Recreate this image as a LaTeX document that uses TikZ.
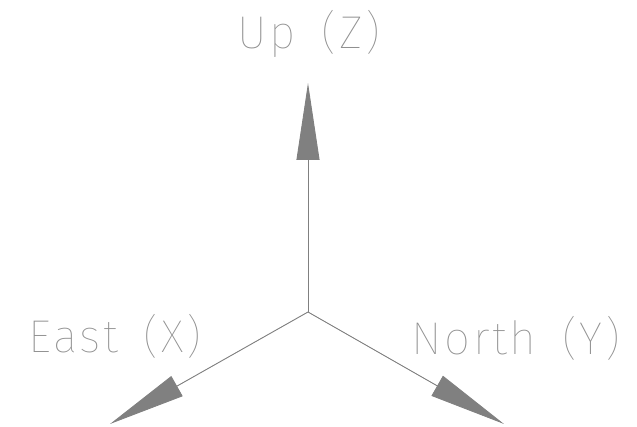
\documentclass[tikz,border=0pt]{standalone}
\usepackage{fontspec}
\usepackage{xcolor}
\usetikzlibrary{arrows.meta}
\newfontfamily\axisfont[LetterSpace=5.5,WordSpace=1.6]{Fira Sans Thin}
\definecolor{axisline}{HTML}{808080}
\definecolor{axistext}{HTML}{909090}

\begin{document}
\begin{tikzpicture}[
  x=1pt,y=1pt,
  axis/.style={-{Triangle[length=77pt,width=23pt]},line width=.9pt,draw=axisline,fill=axisline},
  label/.style={font=\axisfont\fontsize{46}{50}\selectfont,text=axistext,anchor=base,inner sep=0pt}
]
\useasboundingbox (0,0) rectangle (637,427);

% 1. Origin and axis tips.
\coordinate (o) at (308,115);
\coordinate (z) at (308,344);
\coordinate (x) at (110,3);
\coordinate (y) at (504,3);

% 2. Axes.
\draw[axis] (o) -- (z);
\draw[axis] (o) -- (x);
\draw[axis] (o) -- (y);

% 3. Labels.
\node[label] (lblZ) at (309,378) {Up (Z)};
\node[label] (lblX) at (115,74) {East (X)};
\node[label] (lblY) at (516,72) {North (Y)};

\end{tikzpicture}
\end{document}
